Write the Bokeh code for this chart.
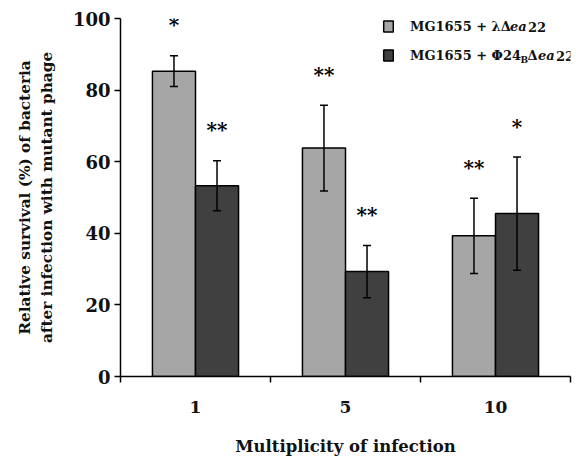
import numpy as np
from bokeh.plotting import figure
from bokeh.models import (ColumnDataSource, Whisker, TeeHead, FixedTicker, Legend,
                          LegendItem, Label, Range1d)
from bokeh.core.properties import value
from bokeh.embed import file_html
from bokeh.resources import INLINE

# ---- data ----
moi = ["1", "5", "10"]
lambda_mean = [85.3, 63.8, 39.3]
lambda_err = [4.3, 12.0, 10.5]
phi_mean = [53.3, 29.3, 45.5]
phi_err = [7.0, 7.3, 15.8]
lambda_sig = ["*", "**", "**"]
phi_sig = ["**", "**", "*"]
y_ticks = [0, 20, 40, 60, 80, 100]

FONT = "DejaVu Serif"
LIGHT = "#a6a6a6"
DARK = "#404040"
BAR_W = 0.287
STAR_GAP = 8.5

n = len(moi)
centers = np.arange(n) + 0.5


def make_source(offset, mean, err, sig):
    mean = np.array(mean)
    err = np.array(err)
    return ColumnDataSource(dict(
        x=centers + offset, top=mean, upper=mean + err, lower=mean - err,
        sig=sig, sig_y=mean + err + STAR_GAP))


src_l = make_source(-BAR_W / 2, lambda_mean, lambda_err, lambda_sig)
src_p = make_source(BAR_W / 2, phi_mean, phi_err, phi_sig)

p = figure(width=576, height=459, output_backend="svg", toolbar_location=None,
           x_range=Range1d(0, n), y_range=Range1d(0, 100),
           min_border_left=120, min_border_right=6, min_border_top=18,
           min_border_bottom=83)
p.outline_line_color = None
p.xgrid.visible = False
p.ygrid.visible = False

r_l = p.vbar(x="x", top="top", width=BAR_W, bottom=0, source=src_l,
             fill_color=LIGHT, line_color="black", line_width=1.5)
r_p = p.vbar(x="x", top="top", width=BAR_W, bottom=0, source=src_p,
             fill_color=DARK, line_color="black", line_width=1.5)

for src in (src_l, src_p):
    w = Whisker(source=src, base="x", upper="upper", lower="lower",
                line_width=1.5, line_color="black", level="overlay",
                upper_head=TeeHead(size=8, line_width=1.5, line_color="black"),
                lower_head=TeeHead(size=8, line_width=1.5, line_color="black"))
    p.add_layout(w)
    p.text(x="x", y="sig_y", text="sig", source=src, text_align="center",
           text_baseline="middle", text_font=value(FONT),
           text_font_style="bold", text_font_size="20px", text_color="black")

# ---- axes ----
xa = p.xaxis[0]
xa.ticker = FixedTicker(ticks=list(centers), minor_ticks=list(range(n + 1)))
xa.major_label_overrides = {float(c): m for c, m in zip(centers, moi)}
xa.major_tick_out = 0
xa.major_tick_in = 0
xa.minor_tick_out = 6
xa.minor_tick_in = 0
xa.minor_tick_line_width = 1.5
xa.minor_tick_line_color = "black"
xa.axis_line_width = 1.5
xa.major_label_standoff = 18
xa.major_label_text_font = FONT
xa.major_label_text_font_style = "bold"
xa.major_label_text_font_size = "17px"
xa.major_label_text_color = "#111111"
xa.axis_label = "Multiplicity of infection"
xa.axis_label_text_font = FONT
xa.axis_label_text_font_style = "bold"
xa.axis_label_text_font_size = "16.5px"
xa.axis_label_text_color = "#111111"
xa.axis_label_standoff = 21

ya = p.yaxis[0]
ya.ticker = FixedTicker(ticks=y_ticks)
ya.minor_tick_line_color = None
ya.major_tick_out = 6
ya.major_tick_in = 0
ya.major_tick_line_width = 1.5
ya.axis_line_width = 1.5
ya.major_label_standoff = 4
ya.major_label_text_font = FONT
ya.major_label_text_font_style = "bold"
ya.major_label_text_font_size = "18px"
ya.major_label_text_color = "#111111"
ya.axis_label = "Relative survival (%) of bacteria\nafter infection with mutant phage"
ya.axis_label_text_font = FONT
ya.axis_label_text_font_style = "bold"
ya.axis_label_text_font_size = "15.3px"
ya.axis_label_text_color = "#111111"
ya.axis_label_standoff = 14

# ---- legend ----
legend = Legend(items=[LegendItem(label="MG1655 + λΔ", renderers=[r_l]),
                       LegendItem(label="MG1655 + Φ24", renderers=[r_p])],
                location=(262, 311), glyph_width=12, glyph_height=14,
                label_height=20, spacing=9, padding=0, margin=0,
                label_standoff=16, border_line_color=None,
                background_fill_alpha=0, label_text_font=FONT,
                label_text_font_style="bold", label_text_font_size="13px",
                label_text_color="#111111")
p.add_layout(legend)


def piece(text, sx, sy, style="bold", size="13px"):
    p.add_layout(Label(x=(sx - 120) / 150, y=(376 - sy) / 3.58, text=text,
                       text_font=FONT, text_font_style=style,
                       text_font_size=size, text_baseline="middle",
                       text_color="#111111"))


piece("ea", 509.5, 26, "bold italic")
piece("22", 527.5, 26)
piece("B", 520, 59.5, "bold", "9px")
piece("Δ", 527, 55)
piece("ea", 537.5, 55, "bold italic")
piece("22", 555.5, 55)

open("out.html", "w").write(file_html(p, INLINE))
